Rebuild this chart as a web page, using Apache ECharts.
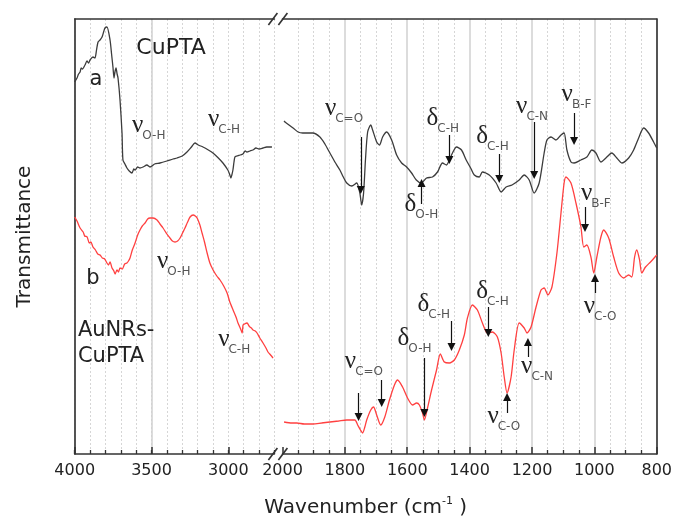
<!DOCTYPE html>
<html>
<head>
<meta charset="utf-8">
<script src="https://cdn.jsdelivr.net/npm/echarts@6/dist/echarts.min.js"></script>
<style>
  html, body { margin: 0; padding: 0; background: #fff; }
  #c { width: 675px; height: 520px; }
</style>
</head>
<body>
<div id="c"></div>
<script>
// FTIR spectra, [wavenumber (cm-1), transmittance (a.u.)]
// (a) CuPTA, 4000-2700 cm-1
const cuptaHigh = [
  [4000,372],[3985,376],[3975,380],[3965,382],[3958,386],[3950,385],[3933,389],[3920,393],
  [3910,391],[3900,394],[3881,397],[3868,396],[3858,404],[3848,412],[3835,414],[3822,417],
  [3810,423],[3803,426],[3790,427],[3770,414],[3760,400],[3751,387],[3744,376],[3738,382],
  [3731,386],[3724,380],[3718,376],[3705,354],[3692,321],[3686,294],[3673,290],[3660,286],
  [3645,283],[3627,281],[3615,285],[3607,284],[3590,287],[3575,286],[3555,287],[3530,289],
  [3510,287],[3480,290],[3445,291],[3400,293],[3360,295],[3334,296],[3300,298],[3269,302],
  [3240,307],[3217,311],[3195,309],[3165,307],[3130,304],[3100,301],[3065,296],[3035,291],
  [3003,284],[2990,279],[2983,276],[2977,279],[2970,284],[2963,292],[2957,297],[2945,298],
  [2924,299],[2905,300],[2890,303],[2879,302],[2860,303],[2840,304],[2820,306],[2800,305],
  [2774,306],[2750,307],[2716,307]
];
// (a) CuPTA, 2000-800 cm-1
const cuptaLow = [
  [1995,333],[1992,332],[1966,326],[1950,322],[1935,321],[1920,321],[1903,321],[1880,317],
  [1864,310],[1848,301],[1832,292],[1816,284],[1805,277],[1794,271],[1778,268],[1762,271],
  [1752,261],[1746,249],[1740,261],[1734,294],[1727,322],[1717,329],[1711,324],[1698,312],
  [1689,309],[1679,317],[1666,322],[1650,314],[1634,299],[1618,291],[1602,287],[1586,281],
  [1571,274],[1555,271],[1538,276],[1519,277],[1503,282],[1487,291],[1474,289],[1465,294],
  [1455,301],[1442,307],[1426,304],[1411,294],[1395,285],[1385,279],[1369,277],[1359,282],
  [1337,279],[1315,271],[1299,262],[1283,267],[1264,269],[1241,274],[1225,279],[1209,274],
  [1193,261],[1177,271],[1161,301],[1152,314],[1139,317],[1123,314],[1107,319],[1097,321],
  [1088,304],[1075,292],[1065,291],[1043,294],[1024,297],[1008,304],[995,301],[979,292],
  [963,296],[944,301],[928,296],[912,291],[890,296],[874,304],[858,316],[842,326],
  [826,321],[810,312],[800,306]
];
// (b) AuNRs-CuPTA, 4000-2700 cm-1
const auHigh = [
  [4000,237],[3985,233],[3965,226],[3945,222],[3935,218],[3919,217],[3905,211],[3895,212],
  [3881,207],[3865,204],[3850,200],[3835,199],[3820,196],[3805,195],[3790,191],[3780,189],
  [3770,192],[3757,186],[3745,183],[3737,180],[3725,184],[3715,182],[3705,186],[3690,185],
  [3675,190],[3660,191],[3650,193],[3640,196],[3625,204],[3607,211],[3590,219],[3575,224],
  [3560,228],[3542,231],[3525,235],[3510,236],[3490,236],[3464,234],[3445,230],[3425,226],
  [3400,220],[3380,216],[3364,213],[3347,212],[3330,213],[3314,216],[3298,221],[3282,226],
  [3265,232],[3249,237],[3229,239],[3215,238],[3203,236],[3185,229],[3171,221],[3155,212],
  [3138,201],[3120,191],[3099,184],[3075,178],[3054,174],[3030,168],[3008,161],[2990,152],
  [2969,144],[2950,137],[2937,131],[2920,125],[2910,121],[2904,129],[2895,130],[2878,131],
  [2865,128],[2859,127],[2850,126],[2839,124],[2825,123],[2813,121],[2795,116],[2774,111],
  [2755,106],[2742,102],[2725,99],[2709,96]
];
// (b) AuNRs-CuPTA, 2000-800 cm-1
const auLow = [
  [1995,32],[1970,31],[1954,31],[1930,30],[1903,30],[1875,31],[1848,32],[1820,33],
  [1794,34],[1768,34],[1759,29],[1750,24],[1743,21],[1736,27],[1730,34],[1717,44],
  [1708,47],[1698,39],[1685,29],[1672,37],[1657,54],[1641,69],[1631,74],[1615,67],
  [1599,56],[1583,49],[1570,51],[1561,49],[1551,41],[1545,34],[1535,46],[1522,64],
  [1506,84],[1494,100],[1481,92],[1465,91],[1449,94],[1433,104],[1417,119],[1407,136],
  [1391,149],[1375,144],[1359,131],[1343,121],[1327,122],[1311,117],[1299,101],[1289,77],
  [1280,61],[1267,77],[1257,104],[1241,131],[1225,126],[1216,121],[1203,127],[1187,147],
  [1171,164],[1161,166],[1149,159],[1136,167],[1120,201],[1107,241],[1097,271],[1091,277],
  [1075,271],[1059,251],[1043,227],[1034,207],[1024,209],[1011,197],[1002,181],[992,197],
  [979,217],[970,224],[954,216],[938,197],[922,181],[906,176],[890,179],[880,177],
  [871,197],[864,204],[855,194],[848,181],[836,187],[820,192],[800,199]
];
// labelled ticks of the high-wavenumber segment
const highTicks = [4000, 3500, 3000];

// band assignments: [symbol, subscript, segment (0 high / 1 low), wavenumber, level]
const bandsA = [
  ['ν','O-H',0,3627,320], ['ν','C-H',0,3132,326], ['ν','C=O',1,1864,337],
  ['δ','C-H',1,1538,327], ['δ','O-H',1,1609,241], ['δ','C-H',1,1379,309],
  ['ν','C-N',1,1251,339], ['ν','B-F',1,1105,351]
];
const bandsB = [
  ['ν','O-H',0,3464,184], ['ν','C-H',0,3066,106], ['ν','C=O',1,1800,84],
  ['δ','O-H',1,1631,107], ['δ','C-H',1,1567,141], ['δ','C-H',1,1379,154],
  ['ν','C-N',1,1235,79],  ['ν','C-O',1,1343,29],  ['ν','B-F',1,1043,252],
  ['ν','C-O',1,1034,139]
];
// arrows: [wavenumber, tail level, head level]
const arrowsA = [[1749,317,264],[1554,250,271],[1465,319,294],[1305,300,275],[1193,332,279],[1065,341,313]];
const arrowsB = [[1756,61,37],[1682,74,51],[1545,96,41],[1458,133,107],[1340,147,121],[1213,97,112],[1280,41,57],[1030,247,226],[998,161,176]];

const AXIS_COLOR = '#333';
const axisLine = { show: true, lineStyle: { color: AXIS_COLOR, width: 1.6 } };
const tickLabel = { fontFamily: 'DejaVu Sans', fontSize: 16, color: '#222', margin: 9, formatter: v => String(v) };
const minorGrid = { show: true, lineStyle: { color: '#d6d6d6', width: 1, type: [2, 2] } };
const majorGrid = { show: true, showMaxLine: false, lineStyle: { color: '#d0d0d0', width: 1.5 } };

function arrowLines(list) {
  return {
    silent: true, animation: false,
    symbol: ['none', 'triangle'], symbolSize: 8,
    label: { show: false },
    emphasis: { disabled: true },
    lineStyle: { color: '#111', width: 1.2, type: 'solid' },
    data: list.map(a => [{ coord: [a[0], a[1]] }, { coord: [a[0], a[2]] }])
  };
}

const option = {
  animation: false,
  backgroundColor: '#fff',
  grid: [
    { left: 74.7, top: 19, width: 199.7, height: 435 },
    { left: 282.5, top: 19, width: 376.5, height: 435 }
  ],
  xAxis: [
    { // high segment: minor ticks every 100
      gridIndex: 0, type: 'value', position: 'bottom', inverse: true, min: 2700, max: 4000, interval: 100,
      axisLine: axisLine,
      axisTick: { inside: true, length: 4, lineStyle: { color: AXIS_COLOR, width: 1.3 } },
      axisLabel: { show: false },
      splitLine: minorGrid
    },
    { // high segment: labelled ticks
      gridIndex: 0, type: 'value', position: 'bottom', offset: 0, inverse: true, min: 2700, max: 4000,
      axisLine: { show: false },
      axisTick: { inside: true, length: 7, customValues: highTicks, lineStyle: { color: AXIS_COLOR, width: 1.5 } },
      axisLabel: Object.assign({ customValues: highTicks }, tickLabel),
      splitLine: majorGrid
    },
    { // high segment: top frame
      gridIndex: 0, type: 'value', position: 'top', inverse: true, min: 2700, max: 4000,
      axisLine: axisLine, axisTick: { show: false }, axisLabel: { show: false }, splitLine: { show: false }
    },
    { // low segment
      gridIndex: 1, type: 'value', position: 'bottom', inverse: true, min: 800, max: 2000, interval: 200,
      axisLine: axisLine,
      axisTick: { inside: true, length: 7, lineStyle: { color: AXIS_COLOR, width: 1.5 } },
      minorTick: { show: true, splitNumber: 4, length: 4, lineStyle: { color: AXIS_COLOR, width: 1.3 } },
      axisLabel: tickLabel,
      splitLine: majorGrid,
      minorSplitLine: minorGrid
    },
    { // low segment: top frame
      gridIndex: 1, type: 'value', position: 'top', inverse: true, min: 800, max: 2000,
      axisLine: axisLine, axisTick: { show: false }, axisLabel: { show: false }, splitLine: { show: false }
    }
  ],
  yAxis: [
    {
      gridIndex: 0, type: 'value', min: 0, max: 435,
      axisLine: axisLine, axisTick: { show: false }, axisLabel: { show: false }, splitLine: { show: false },
      name: 'Transmittance', nameLocation: 'middle', nameGap: 40,
      nameTextStyle: { fontFamily: 'DejaVu Sans', fontSize: 20, color: '#222' }
    },
    {
      gridIndex: 1, type: 'value', position: 'right', min: 0, max: 435,
      axisLine: axisLine, axisTick: { show: false }, axisLabel: { show: false }, splitLine: { show: false }
    }
  ],
  series: [
    { name: 'CuPTA', type: 'line', xAxisIndex: 0, yAxisIndex: 0, data: cuptaHigh,
      showSymbol: false, smooth: 0.25, lineStyle: { color: '#3c3c3c', width: 1.3 }, silent: true },
    { name: 'AuNRs-CuPTA', type: 'line', xAxisIndex: 0, yAxisIndex: 0, data: auHigh,
      showSymbol: false, smooth: 0.25, lineStyle: { color: '#ff4040', width: 1.3 }, silent: true },
    { name: 'CuPTA', type: 'line', xAxisIndex: 3, yAxisIndex: 1, data: cuptaLow,
      showSymbol: false, smooth: 0.25, lineStyle: { color: '#3c3c3c', width: 1.3 }, silent: true,
      markLine: arrowLines(arrowsA) },
    { name: 'AuNRs-CuPTA', type: 'line', xAxisIndex: 3, yAxisIndex: 1, data: auLow,
      showSymbol: false, smooth: 0.25, lineStyle: { color: '#ff4040', width: 1.3 }, silent: true,
      markLine: arrowLines(arrowsB) }
  ]
};

const chart = echarts.init(document.getElementById('c'));
chart.setOption(option);

// ---- annotations placed through the axes ----
const toPx = (seg, w, v) => chart.convertToPixel({ xAxisIndex: seg === 0 ? 0 : 3, yAxisIndex: seg }, [w, v]);
const mctx = document.createElement('canvas').getContext('2d');
function textWidth(text, size, family) { mctx.font = size + 'px "' + family + '"'; return mctx.measureText(text).width; }

const SYM_SIZE = 25, SUB_SIZE = 12;
const gfx = [];
function txt(x, y, text, size, family, fill, align) {
  gfx.push({ type: 'text', x: x, y: y, silent: true, z: 20,
    style: { text: text, fontSize: size, fontFamily: family, fill: fill, align: align || 'left', verticalAlign: 'middle' } });
}
function band(b) {
  const [sym, sub, seg, w, v] = b;
  const p = toPx(seg, w, v);
  const adv = textWidth(sym, SYM_SIZE, 'Liberation Serif');
  txt(p[0], p[1] - 0.34 * SYM_SIZE, sym, SYM_SIZE, 'Liberation Serif', '#222');
  txt(p[0] + adv - 1, p[1] + 6 - 0.35 * SUB_SIZE, sub, SUB_SIZE, 'DejaVu Sans', '#555');
}
bandsA.forEach(band);
bandsB.forEach(band);

// sample names
let p = toPx(0, 3373, 406); txt(p[0], p[1], 'CuPTA', 22, 'DejaVu Sans', '#222', 'center');
p = toPx(0, 3861, 374); txt(p[0], p[1], 'a', 21, 'DejaVu Sans', '#222', 'center');
p = toPx(0, 3881, 175); txt(p[0], p[1], 'b', 21, 'DejaVu Sans', '#222', 'center');
p = toPx(0, 3979, 123); txt(p[0], p[1], 'AuNRs-', 21, 'DejaVu Sans', '#222');
p = toPx(0, 3979, 97);  txt(p[0], p[1], 'CuPTA', 21, 'DejaVu Sans', '#222');

// x-axis title spanning both segments
const xLeft = toPx(0, 4000, 0)[0], xRight = toPx(1, 800, 0)[0];
const t1 = 'Wavenumber (cm', t2 = '-1', t3 = ' )';
const w1 = textWidth(t1, 20, 'DejaVu Sans'), w2 = textWidth(t2, 11, 'DejaVu Sans'), w3 = textWidth(t3, 20, 'DejaVu Sans');
let x0 = (xLeft + xRight) / 2 - (w1 + w2 + w3) / 2;
txt(x0, 508, t1, 20, 'DejaVu Sans', '#222');
txt(x0 + w1, 501, t2, 11, 'DejaVu Sans', '#222');
txt(x0 + w1 + w2, 508, t3, 20, 'DejaVu Sans', '#222');

// axis break marks
const xBreak = toPx(0, 2700, 0)[0];
const yTop = toPx(0, 2700, 435)[1], yBot = toPx(0, 2700, 0)[1];
[yTop, yBot].forEach(y => {
  [-6, 4].forEach(dx => {
    gfx.push({ type: 'line', silent: true, z: 20,
      shape: { x1: xBreak + dx, y1: y + 6, x2: xBreak + dx + 9, y2: y - 6 },
      style: { stroke: AXIS_COLOR, lineWidth: 1.6 } });
  });
});

chart.setOption({ graphic: gfx });
</script>
</body>
</html>
